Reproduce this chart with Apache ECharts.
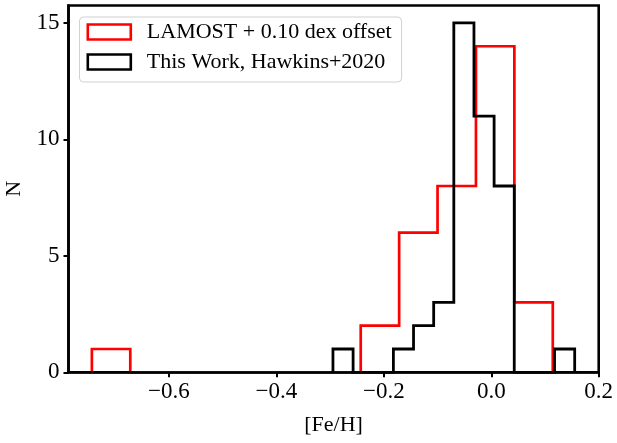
<!DOCTYPE html>
<html>
<head>
<meta charset="utf-8">
<script src="https://cdn.jsdelivr.net/npm/echarts@6/dist/echarts.min.js"></script>
<style>
html,body{margin:0;padding:0;background:#fff;}
#chart{width:617px;height:443px;}
</style>
</head>
<body>
<div id="chart"></div>
<script>
// ---- data ----
const redName = 'LAMOST + 0.10 dex offset';
const blackName = 'This Work, Hawkins+2020';
const redEdges = [-0.7435, -0.672, -0.6005, -0.529, -0.4575, -0.386, -0.3145, -0.243, -0.1715, -0.1, -0.0285, 0.043, 0.1145];
const redCounts = [1, 0, 0, 0, 0, 0, 0, 2, 6, 8, 14, 3];
const blackEdges = [-0.2947, -0.2572, -0.2197, -0.1822, -0.1447, -0.1072, -0.0697, -0.0322, 0.0053, 0.0428, 0.0803, 0.1178, 0.1553];
const blackCounts = [1, 0, 0, 1, 2, 3, 15, 11, 8, 0, 0, 1];
const xTicks = [-0.6, -0.4, -0.2, 0.0, 0.2];
const yTicks = [0, 5, 10, 15];
const xRange = [-0.787, 0.2];
const yRange = [0, 15.75];

function stepOutline(edges, counts) {
  const pts = [[edges[0], 0]];
  for (let i = 0; i < counts.length; i++) {
    pts.push([edges[i], counts[i]]);
    pts.push([edges[i + 1], counts[i]]);
  }
  pts.push([edges[edges.length - 1], 0]);
  return pts;
}

const FONT = 'Liberation Serif';
const chart = echarts.init(document.getElementById('chart'), null, {renderer: 'canvas'});
chart.setOption({
  animation: false,
  backgroundColor: '#fff',
  grid: {left: 68.5, right: 18.3, top: 5.5, bottom: 70.7, show: true, borderColor: '#000', borderWidth: 2.6,
    containLabel: false, outerBoundsMode: 'none'},
  xAxis: {
    type: 'value', min: xRange[0], max: xRange[1], z: 10,
    name: '[Fe/H]', nameLocation: 'middle', nameGap: 42,
    nameTextStyle: {fontFamily: FONT, fontSize: 22, color: '#000'},
    axisLine: {show: true, onZero: false, lineStyle: {color: '#000', width: 2.6}},
    axisTick: {show: true, length: 5, lineStyle: {color: '#000', width: 2}, customValues: xTicks},
    axisLabel: {fontFamily: FONT, fontSize: 23, color: '#000', margin: 8, customValues: xTicks,
      formatter: v => (v < 0 ? '\u2212' : '') + Math.abs(v).toFixed(1)},
    splitLine: {show: false}
  },
  yAxis: {
    type: 'value', min: yRange[0], max: yRange[1], z: 10,
    name: 'N', nameLocation: 'middle', nameGap: 42, nameRotate: 90,
    nameTextStyle: {fontFamily: FONT, fontSize: 22, color: '#000'},
    axisLine: {show: true, onZero: false, lineStyle: {color: '#000', width: 2.6}},
    axisTick: {show: true, length: 5, lineStyle: {color: '#000', width: 2}, customValues: yTicks},
    axisLabel: {fontFamily: FONT, fontSize: 23, color: '#000', margin: 9, customValues: yTicks},
    splitLine: {show: false}
  },
  legend: {
    orient: 'vertical', left: 79.5, top: 17, icon: 'rect',
    itemWidth: 43, itemHeight: 15, itemGap: 8,
    padding: [4, 10, 9, 7],
    backgroundColor: 'rgba(255,255,255,0.8)', borderColor: '#d0d0d0', borderWidth: 1, borderRadius: 4,
    textStyle: {fontFamily: FONT, fontSize: 22, color: '#000', lineHeight: 22, padding: [0, 0, 0, 11]},
    data: [
      {name: redName, itemStyle: {color: 'rgba(0,0,0,0)', borderColor: '#ff0000', borderWidth: 2.6}},
      {name: blackName, itemStyle: {color: 'rgba(0,0,0,0)', borderColor: '#000', borderWidth: 2.6}}
    ]
  },
  series: [
    {name: redName, type: 'line', data: stepOutline(redEdges, redCounts), showSymbol: false, symbol: 'none',
      lineStyle: {color: '#ff0000', width: 2.7, join: 'miter'}, itemStyle: {color: '#ff0000'}, z: 2},
    {name: blackName, type: 'line', data: stepOutline(blackEdges, blackCounts), showSymbol: false, symbol: 'none',
      lineStyle: {color: '#000', width: 2.8, join: 'miter'}, itemStyle: {color: '#000'}, z: 3}
  ]
});
</script>
</body>
</html>
